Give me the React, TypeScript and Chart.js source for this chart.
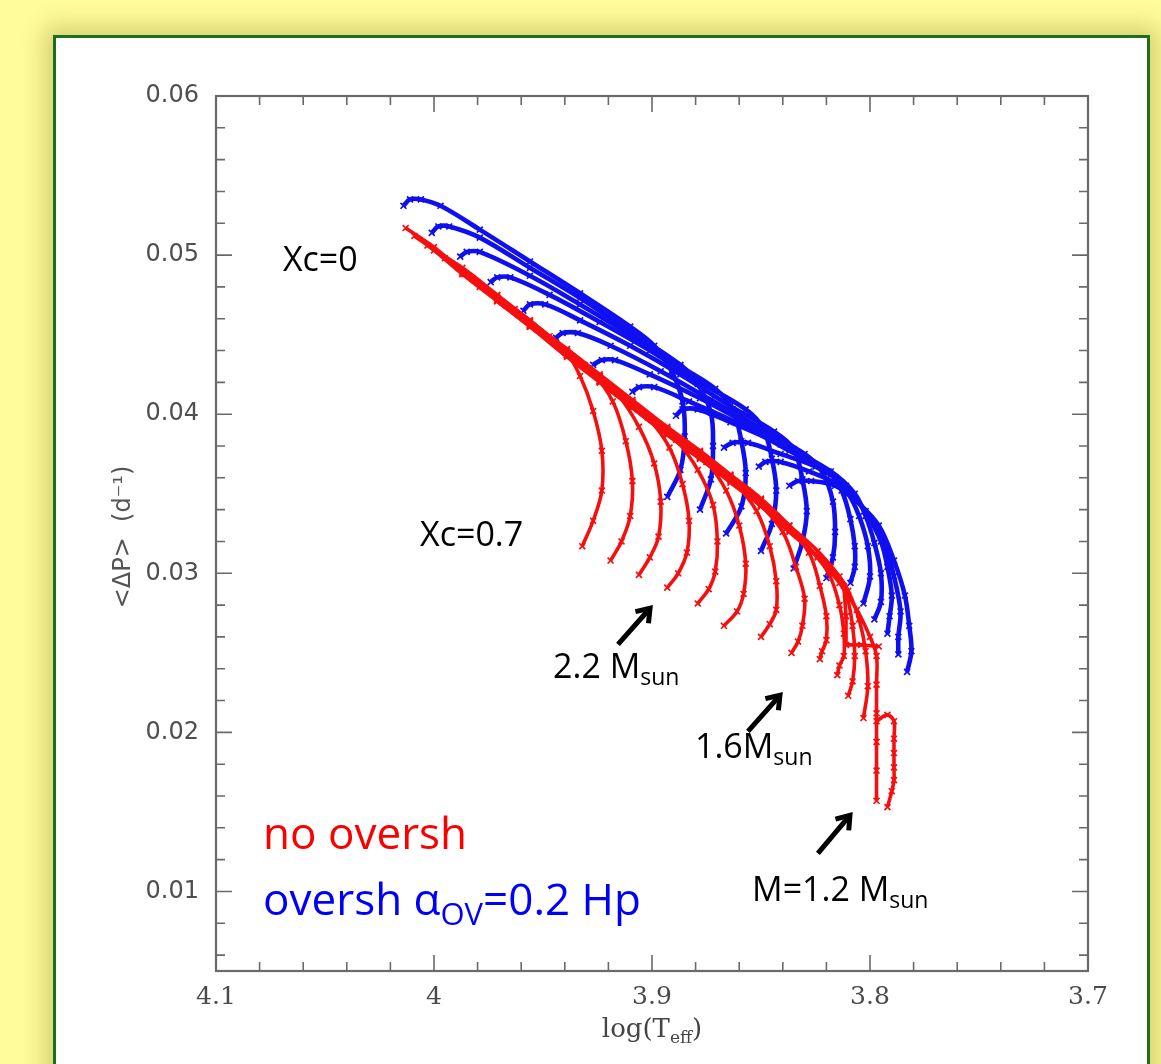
import React, { useEffect, useRef } from 'react';
import { Chart, registerables } from 'chart.js';

Chart.register(...registerables);

// ---------- axis ticks ----------
const xTickValues = [4.1, 4.0, 3.9, 3.8, 3.7];
const xTickLabels = ['4.1', '4', '3.9', '3.8', '3.7'];
const yTickValues = [0.01, 0.02, 0.03, 0.04, 0.05, 0.06];
const yTickLabels = ['0.01', '0.02', '0.03', '0.04', '0.05', '0.06'];

// ---------- no overshooting tracks (red): [log Teff, <dP>] ----------
const red01 = [[4.013,0.0517],[4.000,0.0505],[3.987,0.0490],[3.971,0.0473],[3.956,0.0457],[3.940,0.0440],[3.933,0.0424],[3.927,0.0402],[3.923,0.0377],[3.923,0.0352],[3.927,0.0333],[3.932,0.0317]];
const red02 = [[4.009,0.0512],[4.000,0.0503],[3.987,0.0488],[3.971,0.0471],[3.956,0.0455],[3.940,0.0439],[3.928,0.0427],[3.918,0.0408],[3.912,0.0383],[3.909,0.0358],[3.910,0.0336],[3.914,0.0320],[3.919,0.0308]];
const red03 = [[4.003,0.0506],[3.987,0.0492],[3.971,0.0475],[3.956,0.0459],[3.939,0.0440],[3.924,0.0423],[3.916,0.0413],[3.906,0.0392],[3.899,0.0369],[3.896,0.0345],[3.897,0.0323],[3.901,0.0310],[3.906,0.0299]];
const red04 = [[3.995,0.0498],[3.987,0.0489],[3.971,0.0472],[3.956,0.0456],[3.939,0.0437],[3.924,0.0421],[3.909,0.0405],[3.902,0.0398],[3.892,0.0379],[3.886,0.0356],[3.883,0.0333],[3.884,0.0313],[3.888,0.0300],[3.893,0.0291]];
const red05 = [[3.986,0.0488],[3.971,0.0474],[3.956,0.0458],[3.939,0.0439],[3.924,0.0423],[3.909,0.0407],[3.896,0.0392],[3.889,0.0384],[3.879,0.0365],[3.872,0.0343],[3.870,0.0320],[3.871,0.0301],[3.874,0.0290],[3.879,0.0281]];
const red06 = [[3.979,0.0480],[3.971,0.0472],[3.956,0.0456],[3.939,0.0437],[3.924,0.0421],[3.909,0.0405],[3.893,0.0389],[3.882,0.0377],[3.875,0.0370],[3.866,0.0352],[3.860,0.0330],[3.857,0.0306],[3.858,0.0287],[3.861,0.0276],[3.867,0.0267]];
const red07 = [[3.971,0.0471],[3.956,0.0455],[3.939,0.0436],[3.924,0.0420],[3.909,0.0404],[3.893,0.0387],[3.878,0.0372],[3.868,0.0363],[3.862,0.0357],[3.852,0.0339],[3.846,0.0317],[3.843,0.0295],[3.843,0.0277],[3.846,0.0268],[3.850,0.0260]];
const red08 = [[3.963,0.0466],[3.956,0.0459],[3.939,0.0440],[3.924,0.0424],[3.909,0.0408],[3.893,0.0391],[3.878,0.0376],[3.864,0.0361],[3.856,0.0352],[3.850,0.0343],[3.840,0.0326],[3.834,0.0304],[3.830,0.0284],[3.831,0.0267],[3.833,0.0257],[3.836,0.0250]];
const red09 = [[3.956,0.0455],[3.939,0.0438],[3.924,0.0422],[3.909,0.0406],[3.893,0.0389],[3.878,0.0374],[3.864,0.0359],[3.850,0.0344],[3.843,0.0336],[3.838,0.0329],[3.828,0.0313],[3.823,0.0292],[3.820,0.0273],[3.820,0.0258],[3.822,0.0251],[3.823,0.0246]];
const red10 = [[3.947,0.0449],[3.939,0.0441],[3.924,0.0425],[3.909,0.0409],[3.893,0.0392],[3.878,0.0377],[3.864,0.0362],[3.850,0.0347],[3.837,0.0330],[3.828,0.0316],[3.819,0.0300],[3.814,0.0280],[3.812,0.0262],[3.812,0.0248],[3.814,0.0242],[3.815,0.0236]];
const red11 = [[3.939,0.0437],[3.924,0.0421],[3.909,0.0405],[3.893,0.0388],[3.878,0.0373],[3.864,0.0358],[3.850,0.0343],[3.837,0.0327],[3.824,0.0311],[3.818,0.0304],[3.811,0.0287],[3.808,0.0267],[3.807,0.0248],[3.808,0.0232],[3.810,0.0223]];
const red12 = [[3.931,0.0431],[3.924,0.0424],[3.909,0.0408],[3.893,0.0391],[3.878,0.0376],[3.864,0.0361],[3.850,0.0346],[3.837,0.0330],[3.824,0.0314],[3.814,0.0298],[3.810,0.0289],[3.805,0.0271],[3.802,0.0251],[3.801,0.0229],[3.803,0.0209]];
const red13 = [[3.924,0.0420],[3.909,0.0404],[3.893,0.0387],[3.878,0.0372],[3.864,0.0357],[3.850,0.0342],[3.837,0.0326],[3.824,0.0310],[3.814,0.0294],[3.806,0.0277],[3.800,0.0260],[3.797,0.0248],[3.797,0.0230],[3.797,0.0212],[3.797,0.0194],[3.797,0.0176],[3.797,0.0157]];
const red14 = [[3.797,0.0207],[3.792,0.0211],[3.789,0.0207],[3.789,0.0196],[3.789,0.0187],[3.789,0.0178],[3.789,0.0170],[3.790,0.0163],[3.792,0.0153]];
const red15 = [[3.812,0.0292],[3.811,0.0273],[3.811,0.0255],[3.804,0.0255],[3.796,0.0254]];

// ---------- overshooting tracks (blue) ----------
const blue01 = [[4.014,0.0531],[4.011,0.0535],[4.006,0.0535],[3.997,0.0531],[3.979,0.0516],[3.956,0.0496],[3.933,0.0476],[3.910,0.0455],[3.899,0.0443],[3.891,0.0427],[3.886,0.0408],[3.885,0.0386],[3.887,0.0365],[3.893,0.0348]];
const blue02 = [[4.001,0.0514],[3.998,0.0518],[3.993,0.0518],[3.979,0.0511],[3.956,0.0492],[3.933,0.0473],[3.910,0.0452],[3.887,0.0431],[3.879,0.0419],[3.873,0.0401],[3.872,0.0380],[3.873,0.0359],[3.878,0.0340]];
const blue03 = [[3.988,0.0499],[3.985,0.0502],[3.979,0.0502],[3.956,0.0487],[3.933,0.0469],[3.910,0.0450],[3.887,0.0430],[3.871,0.0416],[3.863,0.0403],[3.859,0.0383],[3.857,0.0363],[3.859,0.0342],[3.866,0.0325]];
const blue04 = [[3.974,0.0483],[3.971,0.0486],[3.965,0.0486],[3.947,0.0475],[3.924,0.0458],[3.901,0.0440],[3.878,0.0420],[3.857,0.0403],[3.849,0.0391],[3.845,0.0372],[3.843,0.0352],[3.845,0.0331],[3.850,0.0314]];
const blue05 = [[3.959,0.0465],[3.956,0.0469],[3.949,0.0469],[3.933,0.0459],[3.910,0.0443],[3.887,0.0425],[3.864,0.0405],[3.844,0.0389],[3.835,0.0378],[3.831,0.0359],[3.829,0.0339],[3.831,0.0320],[3.835,0.0303]];
const blue06 = [[3.944,0.0448],[3.941,0.0451],[3.934,0.0451],[3.919,0.0443],[3.896,0.0427],[3.873,0.0409],[3.850,0.0391],[3.830,0.0375],[3.822,0.0364],[3.817,0.0345],[3.816,0.0326],[3.817,0.0310],[3.820,0.0297]];
const blue07 = [[3.927,0.0431],[3.923,0.0434],[3.917,0.0434],[3.901,0.0425],[3.878,0.0410],[3.855,0.0393],[3.832,0.0375],[3.819,0.0364],[3.813,0.0352],[3.809,0.0334],[3.807,0.0317],[3.807,0.0304],[3.809,0.0294]];
const blue08 = [[3.909,0.0414],[3.906,0.0417],[3.899,0.0417],[3.883,0.0408],[3.860,0.0394],[3.837,0.0377],[3.818,0.0362],[3.810,0.0350],[3.805,0.0336],[3.801,0.0317],[3.800,0.0298],[3.803,0.0281]];
const blue09 = [[3.889,0.0399],[3.886,0.0403],[3.879,0.0403],[3.864,0.0395],[3.841,0.0381],[3.818,0.0364],[3.807,0.0350],[3.802,0.0336],[3.798,0.0319],[3.795,0.0300],[3.795,0.0282],[3.798,0.0271]];
const blue10 = [[3.867,0.0379],[3.863,0.0382],[3.856,0.0382],[3.841,0.0375],[3.825,0.0367],[3.811,0.0355],[3.801,0.0336],[3.795,0.0320],[3.792,0.0304],[3.790,0.0286],[3.791,0.0273],[3.792,0.0262]];
const blue11 = [[3.851,0.0367],[3.848,0.0370],[3.841,0.0370],[3.828,0.0364],[3.814,0.0355],[3.802,0.0339],[3.793,0.0317],[3.789,0.0298],[3.786,0.0276],[3.787,0.0260],[3.787,0.0249]];
const blue12 = [[3.837,0.0355],[3.833,0.0358],[3.827,0.0358],[3.816,0.0355],[3.806,0.0345],[3.796,0.0330],[3.789,0.0308],[3.784,0.0286],[3.782,0.0267],[3.781,0.0251],[3.783,0.0238]];

const redTracks = [red01, red02, red03, red04, red05, red06, red07, red08, red09, red10, red11, red12, red13, red14];
const redStraight = [red15];
const blueTracks = [blue01, blue02, blue03, blue04, blue05, blue06, blue07, blue08, blue09, blue10, blue11, blue12];

const RED = 'rgb(245,15,15)';
const BLUE = 'rgb(15,15,240)';

function makeDataset(pts: number[][], color: string, tension: number, width: number) {
  return {
    type: 'scatter' as const,
    data: pts.map(([x, y]) => ({ x, y })),
    showLine: true,
    borderColor: color,
    backgroundColor: color,
    borderWidth: width,
    tension,
    pointStyle: 'crossRot',
    pointRadius: 4.2,
    pointBorderWidth: 1.7,
    pointBorderColor: color,
    fill: false,
  };
}

function drawRich(ctx: CanvasRenderingContext2D, parts: { t: string; f: string; dy?: number }[], x: number, y: number, color: string) {
  let cx = x;
  ctx.fillStyle = color;
  ctx.textAlign = 'left';
  ctx.textBaseline = 'alphabetic';
  for (const p of parts) {
    ctx.font = p.f;
    ctx.fillText(p.t, cx, y + (p.dy || 0));
    cx += ctx.measureText(p.t).width;
  }
}

function drawArrow(ctx: CanvasRenderingContext2D, x0: number, y0: number, x1: number, y1: number) {
  const ang = Math.atan2(y1 - y0, x1 - x0);
  ctx.save();
  ctx.strokeStyle = '#000';
  ctx.lineWidth = 5;
  ctx.lineCap = 'butt';
  ctx.lineJoin = 'miter';
  ctx.beginPath();
  ctx.moveTo(x0, y0);
  ctx.lineTo(x1 - 3 * Math.cos(ang), y1 - 3 * Math.sin(ang));
  ctx.stroke();
  const hl = 15;
  ctx.beginPath();
  ctx.moveTo(x1 - hl * Math.cos(ang - 0.62), y1 - hl * Math.sin(ang - 0.62));
  ctx.lineTo(x1, y1);
  ctx.lineTo(x1 - hl * Math.cos(ang + 0.62), y1 - hl * Math.sin(ang + 0.62));
  ctx.stroke();
  ctx.restore();
}

const overlayPlugin = {
  id: 'overlay',
  afterDatasetsDraw(chart: any) {
    const { ctx, chartArea: a, scales } = chart;
    const xs = scales.x;
    const ys = scales.y;
    ctx.save();
    // frame
    ctx.strokeStyle = '#6a6a6a';
    ctx.lineWidth = 2.2;
    ctx.strokeRect(a.left, a.top, a.right - a.left, a.bottom - a.top);
    // ticks on all four sides, pointing inward
    ctx.lineWidth = 1.6;
    for (let i = 0; i <= 20; i++) {
      const v = 3.7 + i * 0.02;
      const px = xs.getPixelForValue(v);
      const major = i % 5 === 0;
      const len = major ? 16 : 9;
      ctx.beginPath();
      ctx.moveTo(px, a.bottom); ctx.lineTo(px, a.bottom - len);
      ctx.moveTo(px, a.top); ctx.lineTo(px, a.top + len);
      ctx.stroke();
    }
    for (let i = 0; i <= 27; i++) {
      const v = 0.006 + i * 0.002;
      const py = ys.getPixelForValue(v);
      const major = Math.abs(v * 100 - Math.round(v * 100)) < 1e-6;
      const len = major ? 16 : 9;
      ctx.beginPath();
      ctx.moveTo(a.left, py); ctx.lineTo(a.left + len, py);
      ctx.moveTo(a.right, py); ctx.lineTo(a.right - len, py);
      ctx.stroke();
    }
    // axis titles
    ctx.fillStyle = '#555';
    ctx.save();
    ctx.translate(a.left - 92, a.top + 441);
    ctx.rotate(-Math.PI / 2);
    ctx.font = '24px "DejaVu Sans"';
    ctx.textAlign = 'center';
    ctx.textBaseline = 'middle';
    ctx.fillText('<ΔP>  (d⁻¹)', 0, 0);
    ctx.restore();
    {
      const f1 = '26px "DejaVu Serif"';
      const f2 = '17px "DejaVu Serif"';
      ctx.font = f1;
      const w1 = ctx.measureText('log(T').width;
      const w3 = ctx.measureText(')').width;
      ctx.font = f2;
      const w2 = ctx.measureText('eff').width;
      const cx = xs.getPixelForValue(3.9);
      const start = cx - (w1 + w2 + w3) / 2;
      drawRich(ctx, [{ t: 'log(T', f: f1 }, { t: 'eff', f: f2, dy: 6 }, { t: ')', f: f1 }], start, a.bottom + 66, '#444');
    }
    // annotations
    const P = (x: number, y: number) => [xs.getPixelForValue(x), ys.getPixelForValue(y)];
    const big = '34px "Open Sans"';
    const sub = '23px "Open Sans"';
    let p = P(4.0693, 0.04899);
    drawRich(ctx, [{ t: 'Xc=0', f: big }], p[0], p[1], '#000');
    p = P(4.0064, 0.0317);
    drawRich(ctx, [{ t: 'Xc=0.7', f: big }], p[0], p[1], '#000');
    p = P(3.9454, 0.0234);
    drawRich(ctx, [{ t: '2.2 M', f: big }, { t: 'sun', f: sub, dy: 7 }], p[0], p[1], '#000');
    p = P(3.8803, 0.01836);
    drawRich(ctx, [{ t: '1.6M', f: big }, { t: 'sun', f: sub, dy: 7 }], p[0], p[1], '#000');
    p = P(3.8541, 0.00937);
    drawRich(ctx, [{ t: 'M=1.2 M', f: big }, { t: 'sun', f: sub, dy: 7 }], p[0], p[1], '#000');
    const leg = '44px "Open Sans"';
    const legSub = '31px "Open Sans"';
    p = P(4.0784, 0.01264);
    drawRich(ctx, [{ t: 'no oversh', f: leg }], p[0], p[1], 'rgb(250,0,0)');
    p = P(4.0784, 0.00855);
    drawRich(ctx, [{ t: 'oversh α', f: leg }, { t: 'OV', f: legSub, dy: 10 }, { t: '=0.2 Hp', f: leg }], p[0], p[1], 'rgb(0,0,250)');
    // arrows
    const arrows = [
      [3.9156, 0.02553, 3.9009, 0.0278],
      [3.856, 0.02006, 3.8413, 0.02233],
      [3.8239, 0.01239, 3.8092, 0.01478],
    ];
    for (const [xa, ya, xb, yb] of arrows) {
      const s = P(xa, ya);
      const e = P(xb, yb);
      drawArrow(ctx, s[0], s[1], e[0], e[1]);
    }
    ctx.restore();
  },
};

export default function App() {
  const ref = useRef<HTMLCanvasElement | null>(null);
  useEffect(() => {
    if (!ref.current) return;
    const datasets: any[] = [];
    redTracks.forEach((t) => datasets.push(makeDataset(t, RED, 0.35, 3.6)));
    redStraight.forEach((t) => datasets.push(makeDataset(t, RED, 0, 3.6)));
    blueTracks.forEach((t) => datasets.push(makeDataset(t, BLUE, 0.35, 4.6)));
    const chart = new Chart(ref.current, {
      type: 'scatter',
      data: { datasets },
      options: {
        responsive: false,
        animation: false,
        devicePixelRatio: 1,
        layout: { padding: { top: 96, right: 73, left: 0, bottom: 0 } },
        plugins: { legend: { display: false }, tooltip: { enabled: false } },
        scales: {
          x: {
            type: 'linear',
            reverse: true,
            min: 3.7,
            max: 4.1,
            afterBuildTicks: (s: any) => {
              s.ticks = xTickValues.map((v) => ({ value: v }));
            },
            afterFit: (s: any) => {
              s.height = 93;
            },
            grid: { display: false, drawTicks: false },
            border: { display: false },
            ticks: {
              autoSkip: false,
              maxRotation: 0,
              padding: 11,
              color: '#4a4a4a',
              font: { family: 'DejaVu Serif', size: 25 },
              callback: (v: any) => {
                const i = xTickValues.findIndex((t) => Math.abs(t - Number(v)) < 1e-9);
                return i >= 0 ? xTickLabels[i] : '';
              },
            },
          },
          y: {
            type: 'linear',
            min: 0.005,
            max: 0.06,
            afterBuildTicks: (s: any) => {
              s.ticks = yTickValues.map((v) => ({ value: v }));
            },
            afterFit: (s: any) => {
              s.width = 216;
            },
            grid: { display: false, drawTicks: false },
            border: { display: false },
            ticks: {
              autoSkip: false,
              padding: 17,
              color: '#4f4f4f',
              font: { family: 'DejaVu Sans', size: 24 },
              callback: (v: any) => {
                const i = yTickValues.findIndex((t) => Math.abs(t - Number(v)) < 1e-9);
                return i >= 0 ? yTickLabels[i] : '';
              },
            },
          },
        },
      },
      plugins: [overlayPlugin],
    });
    return () => chart.destroy();
  }, []);

  return (
    <div style={{ position: 'fixed', left: 0, top: 0, width: 1161, height: 1064, background: '#fffc9b', overflow: 'hidden' }}>
      <div
        style={{
          position: 'absolute',
          left: 53,
          top: 35,
          width: 1091,
          height: 1100,
          background: '#ffffff',
          border: '3px solid #1e6e1e',
          boxShadow: '0 0 22px 8px rgba(160,150,60,0.45)',
        }}
      />
      <canvas ref={ref} width={1161} height={1064} style={{ position: 'absolute', left: 0, top: 0, width: 1161, height: 1064 }} />
    </div>
  );
}
